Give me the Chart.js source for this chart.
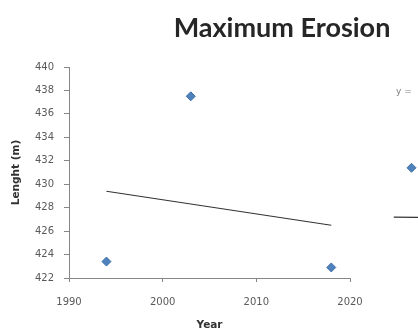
<!DOCTYPE html>
<html>
<head>
<meta charset="utf-8">
<script src="https://cdn.jsdelivr.net/npm/chart.js@4/dist/chart.umd.min.js"></script>
<style>
  html, body { margin: 0; padding: 0; background: #fff; overflow: hidden; }
  #wrap { position: relative; width: 418px; height: 332px; overflow: hidden; }
  #title {
    position: absolute; left: 150px; width: 264px; top: 10px;
    text-align: center; font: bold 27px Lato, sans-serif; color: #262626;
    white-space: nowrap;
  }
  #eq { position: absolute; left: 396px; top: 86px; font: 9px "DejaVu Sans", sans-serif; color: #7f7f7f; }
  #main { position: absolute; left: 0; top: 0; }
  #next { position: absolute; left: 388px; top: 0; }
</style>
</head>
<body>
<div id="wrap">
  <canvas id="main" width="418" height="332"></canvas>
  <canvas id="next" width="227" height="332"></canvas>
  <div id="title">Maximum Erosion</div>
  <div id="eq">y =</div>
</div>
<script>
// données
const years = [1994, 2003, 2018];
const erosion = [423.4, 437.5, 422.9];
const trendYears = [1994, 2018];
const trendValues = [429.4, 426.5];
const yTicks = [422, 424, 426, 428, 430, 432, 434, 436, 438, 440];
const xTicks = [1990, 2000, 2010, 2020];

// morceau du graphique voisin (coupé à droite)
const nextYears = [1996];
const nextValues = [431.4];
const nextTrendYears = [1994, 2018];
const nextTrendValues = [427.2, 427.0];

const blue = '#4F81BD';
const axisGrey = '#868686';
const tickFont = { family: 'DejaVu Sans', size: 10 };
const titleFont = { family: 'DejaVu Sans', size: 10.5, weight: 'bold' };

function pts(xs, ys) {
    return xs.map((x, i) => ({ x: x, y: ys[i] }));
}

new Chart(document.getElementById('main'), {
    type: 'scatter',
    data: {
        datasets: [{
            data: pts(years, erosion),
            pointStyle: 'rectRot',
            pointRadius: 4.5,
            backgroundColor: blue,
            borderColor: '#3f6fa8',
            borderWidth: 1
        }, {
            data: pts(trendYears, trendValues),
            showLine: true,
            pointRadius: 0,
            borderColor: '#333',
            borderWidth: 1.2
        }]
    },
    options: {
        responsive: false,
        animation: false,
        layout: { padding: { left: 0, right: 68, top: 67, bottom: 0 } },
        plugins: { legend: { display: false }, tooltip: { enabled: false } },
        scales: {
            x: {
                type: 'linear', min: 1990, max: 2020,
                afterBuildTicks: s => { s.ticks = xTicks.map(v => ({ value: v })); },
                afterFit: s => { s.height = 54; },
                border: { color: axisGrey, width: 1 },
                grid: { drawOnChartArea: false, tickLength: 4, color: axisGrey },
                ticks: { font: tickFont, color: '#5a5a5a', padding: 14, callback: v => String(v) },
                title: { display: true, text: 'Year', font: titleFont, color: '#333', padding: { top: 0, bottom: 0 } }
            },
            y: {
                min: 422, max: 440,
                afterBuildTicks: s => { s.ticks = yTicks.map(v => ({ value: v })); },
                afterFit: s => { s.width = 69; },
                border: { color: axisGrey, width: 1 },
                grid: { drawOnChartArea: false, tickLength: 5, color: axisGrey },
                ticks: { font: tickFont, color: '#5a5a5a', padding: 10, callback: v => String(v) },
                title: { display: true, text: 'Lenght (m)', font: titleFont, color: '#333', padding: { top: 10, bottom: 0 } }
            }
        }
    }
});

new Chart(document.getElementById('next'), {
    type: 'scatter',
    data: {
        datasets: [{
            data: pts(nextYears, nextValues),
            pointStyle: 'rectRot',
            pointRadius: 4.5,
            backgroundColor: blue,
            borderColor: '#3f6fa8',
            borderWidth: 1
        }, {
            data: pts(nextTrendYears, nextTrendValues),
            showLine: true,
            pointRadius: 0,
            borderColor: '#333',
            borderWidth: 1.2
        }]
    },
    options: {
        responsive: false,
        animation: false,
        layout: { padding: { left: 2, right: 0, top: 67, bottom: 54 } },
        plugins: { legend: { display: false }, tooltip: { enabled: false } },
        scales: {
            x: { type: 'linear', min: 1994, max: 2018, display: false },
            y: { min: 422, max: 440, display: false }
        }
    }
});
</script>
</body>
</html>
